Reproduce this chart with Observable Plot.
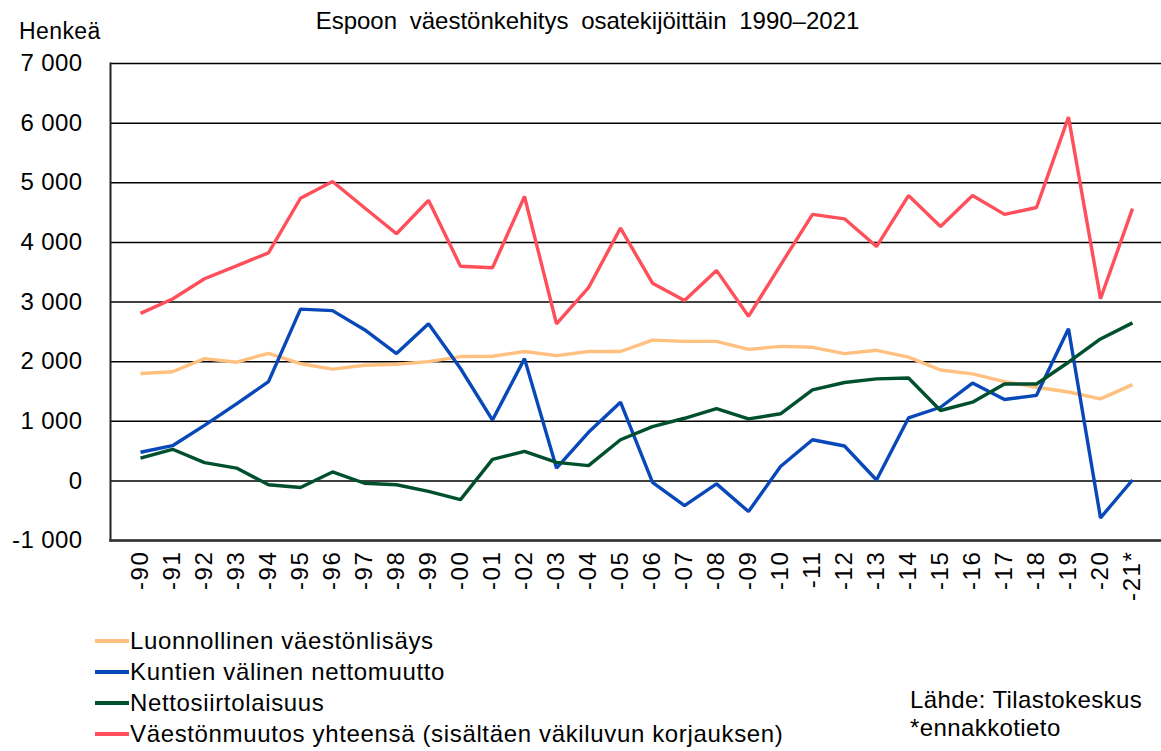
<!DOCTYPE html>
<html>
<head>
<meta charset="utf-8">
<script src="https://cdn.jsdelivr.net/npm/d3@7"></script>
<script src="https://cdn.jsdelivr.net/npm/@observablehq/plot@0.6"></script>
<style>
  html, body { margin: 0; padding: 0; background: #fff; }
  body { font-family: "Liberation Sans", Arial, sans-serif; color: #000; }
  #wrap { position: relative; width: 1161px; height: 751px; overflow: hidden; }
  #chart { position: absolute; left: 0; top: 0; }
  #chart g[aria-label="x-axis tick label"] text { letter-spacing: 1.6px; }
  #chart g[aria-label="y-axis tick label"] text { letter-spacing: 0.4px; }
  .abs { position: absolute; white-space: nowrap; line-height: 1; }
  #title { left: 0; width: 1175px; text-align: center; top: 9px; font-size: 24px; word-spacing: 6px; }
  #ylab { left: 19px; top: 20px; font-size: 23px; letter-spacing: 0.4px; }
  .leg { left: 95px; font-size: 24px; letter-spacing: 0.65px; display: flex; align-items: center; height: 24px; }
  .leg span.sw { display: inline-block; width: 34px; height: 3.5px; margin-right: 1px; }
  .src { left: 910px; font-size: 24px; letter-spacing: 0.4px; }
</style>
</head>
<body>
<div id="wrap">
  <div id="chart"></div>
  <div id="title" class="abs">Espoon väestönkehitys osatekijöittäin 1990–2021</div>
  <div id="ylab" class="abs">Henkeä</div>
  <div id="legend"></div>
  <div class="abs src" style="top:688px">Lähde: Tilastokeskus</div>
  <div class="abs src" style="top:716px">*ennakkotieto</div>
</div>
<script>
const years = ["-90","-91","-92","-93","-94","-95","-96","-97","-98","-99","-00","-01","-02","-03","-04","-05","-06","-07","-08","-09","-10","-11","-12","-13","-14","-15","-16","-17","-18","-19","-20","-21*"];

const luonnollinen = [1800,1830,2050,1990,2140,1965,1875,1940,1955,2000,2085,2090,2170,2100,2170,2170,2360,2340,2340,2205,2255,2240,2135,2190,2075,1860,1795,1665,1570,1490,1375,1615];
const kuntienValinen = [480,590,930,1290,1665,2880,2855,2535,2135,2635,1885,1020,2050,215,815,1320,-25,-415,-50,-515,240,690,585,15,1055,1235,1640,1365,1435,2550,-620,15];
const nettosiirtolaisuus = [380,530,305,215,-65,-110,150,-40,-65,-175,-315,360,495,310,255,690,910,1050,1210,1040,1125,1525,1650,1710,1725,1180,1320,1625,1625,1990,2380,2650];
const yhteensa = [2810,3050,3390,3605,3825,4740,5020,4580,4145,4705,3600,3575,4770,2635,3240,4240,3315,3025,3530,2760,3620,4470,4395,3930,4785,4265,4785,4470,4585,6100,3055,4565];

const seriesNames = ["Luonnollinen väestönlisäys","Kuntien välinen nettomuutto","Nettosiirtolaisuus","Väestönmuutos yhteensä (sisältäen väkiluvun korjauksen)"];
const seriesColors = ["#ffc080","#0848b8","#00502e","#ff4f5a"];
const yTicks = [-1000,0,1000,2000,3000,4000,5000,6000,7000];

const seriesValues = [luonnollinen, kuntienValinen, nettosiirtolaisuus, yhteensa];
const data = [];
seriesValues.forEach((vals, si) => {
  vals.forEach((v, i) => data.push({series: seriesNames[si], year: years[i], value: v}));
});

const fmt = d => (d < 0 ? "-" : "") + d3.format(",")(Math.abs(d)).replace(/,/g, " ");

const chart = Plot.plot({
  width: 1161,
  height: 620,
  marginTop: 63,
  marginBottom: 80,
  marginLeft: 110,
  marginRight: 0,
  style: {fontFamily: "'Liberation Sans', Arial, sans-serif", color: "#000", background: "transparent"},
  x: {type: "point", domain: years, padding: 0.5},
  y: {domain: [-1000, 7000]},
  color: {domain: seriesNames, range: seriesColors},
  marks: [
    Plot.gridY(yTicks, {stroke: "#000", strokeOpacity: 1, strokeWidth: 1.5}),
    Plot.frame({anchor: "left", stroke: "#222", strokeWidth: 2}),
    Plot.frame({anchor: "bottom", stroke: "#333", strokeWidth: 2.5}),
    Plot.axisY({ticks: yTicks, tickSize: 0, tickPadding: 28, tickFormat: fmt, fontSize: 24, label: null}),
    Plot.axisX({tickSize: 0, tickPadding: 10, tickRotate: -90, fontSize: 24, label: null}),
    Plot.line(data, {x: "year", y: "value", z: "series", stroke: "series", strokeWidth: 3.4, strokeLinejoin: "miter", strokeLinecap: "butt"})
  ]
});
document.getElementById("chart").appendChild(chart);

const legend = document.getElementById("legend");
const legTops = [629, 660, 691, 722];
seriesNames.forEach((name, i) => {
  const row = document.createElement("div");
  row.className = "abs leg";
  row.style.top = legTops[i] + "px";
  const sw = document.createElement("span");
  sw.className = "sw";
  sw.style.background = seriesColors[i];
  row.appendChild(sw);
  row.appendChild(document.createTextNode(name));
  legend.appendChild(row);
});
</script>
</body>
</html>
